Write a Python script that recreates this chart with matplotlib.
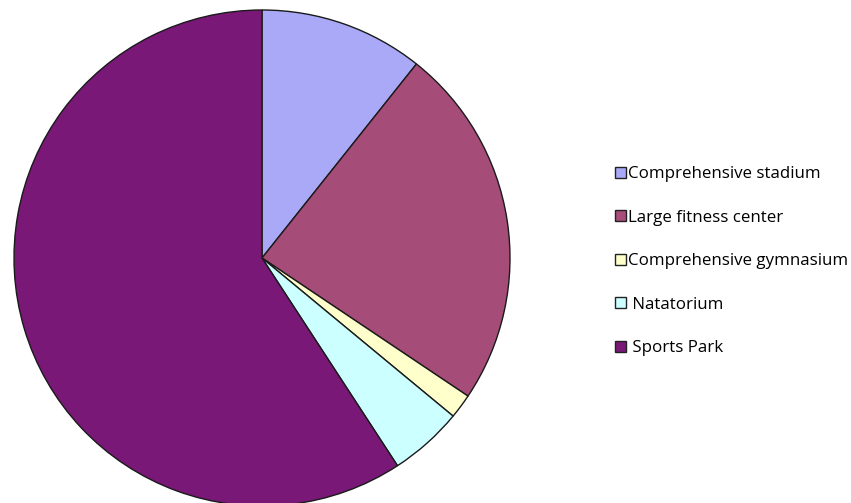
import matplotlib
matplotlib.use("Agg")
import matplotlib.pyplot as plt
from matplotlib.patches import Patch

categories = ["Comprehensive stadium", "Large fitness center", "Comprehensive gymnasium", " Natatorium", " Sports Park"]
values = [10.7, 23.7, 1.6, 4.8, 59.2]
colors = ["#A9A9F7", "#A64C78", "#FFFFCC", "#CCFFFF", "#7A1878"]

W, H = 851, 503
fig = plt.figure(figsize=(W / 100, H / 100), dpi=100)
fig.patch.set_facecolor("white")

cx, cy, r = 262, 258, 248
ax = fig.add_axes([(cx - r) / W, (H - cy - r) / H, 2 * r / W, 2 * r / H])
ax.pie(values, colors=colors, startangle=90, counterclock=False,
       wedgeprops=dict(edgecolor="#1a1a1a", linewidth=1.0))
ax.set_xlim(-1, 1)
ax.set_ylim(-1, 1)
ax.set_aspect("equal")
ax.axis("off")

handles = [Patch(facecolor=c, edgecolor="#222222", linewidth=1.0) for c in colors]
leg = fig.legend(handles, categories, loc="upper left",
                 bbox_to_anchor=(615 / W, 1 - 166 / H),
                 frameon=False, prop={"family": "Open Sans", "size": 12.2},
                 handlelength=0.62, handleheight=0.62, handletextpad=0.15,
                 labelspacing=1.63, borderpad=0, borderaxespad=0)

fig.savefig("out.png", dpi=100, facecolor="white")
